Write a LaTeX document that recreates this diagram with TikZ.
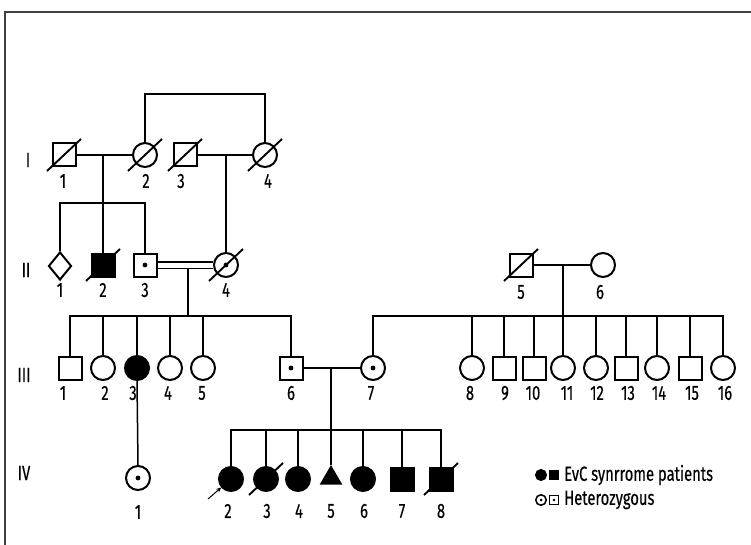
\documentclass[tikz,border=0pt]{standalone}
\usepackage{fontspec}
\setmainfont[FakeStretch=0.72, FakeBold=0.35]{Fira Sans}
\usetikzlibrary{shapes.geometric,arrows.meta}

% slash through a deceased individual
\newcommand\deceased[1]{\draw[line width=1.9pt] ([shift={(-17,16)}]#1.center) -- ([shift={(17,-16)}]#1.center);}

\begin{document}
\begin{tikzpicture}[x=1pt,y=-1pt,
  ind/.style={draw, line width=2pt, inner sep=0pt},
  male/.style={ind, rectangle, minimum size=23pt},
  female/.style={ind, circle, minimum size=24pt},
  unknown/.style={ind, diamond, minimum width=23pt, minimum height=28pt},
  aff/.style={fill=black},
  carrier/.style={path picture={\fill (path picture bounding box.center) circle (#1);}},
  carrier/.default=2.4pt,
  lbl/.style={inner sep=0pt, font=\fontsize{20.5}{22}\selectfont},
  con/.style={line width=1.5pt}
]
\useasboundingbox (0,0) rectangle (751,545);
\draw[line width=1.2pt, black!75] (5,545) -- (5,12) -- (751,12);

% generation labels
\node[lbl] (gI) at (28,160) {I};
\node[lbl] (gII) at (26,270) {II};
\node[lbl] (gIII) at (24,375) {III};
\node[lbl] (gIV) at (24,473) {IV};

% ---------- generation I
\node[male] (I1) at (64,155) {};
\node[female] (I2) at (145,155) {};
\node[male] (I3) at (185,155) {};
\node[female] (I4) at (265,155) {};
\deceased{I1}\deceased{I2}\deceased{I3}\deceased{I4}
\node[lbl] (lI1) at (63,181) {1};
\node[lbl] (lI2) at (146,181) {2};
\node[lbl] (lI3) at (181,181) {3};
\node[lbl] (lI4) at (268,181) {4};
\coordinate (topI) at (200,94);
\draw[con] (I2.north) |- (topI) -| (I4.north);
\draw[con] (I1.east) -- (I2.west);
\draw[con] (I3.east) -- (I4.west);

% ---------- generation II
\node[unknown] (II1) at (60,266) {};
\node[male, aff] (II2) at (103,265) {};
\node[male, carrier] (II3) at (145,265) {};
\node[female, carrier] (II4) at (226,265) {};
\deceased{II2}\deceased{II4}
\node[male] (II5) at (521,265) {};
\node[female] (II6) at (603,265) {};
\deceased{II5}
\node[lbl] (lII1) at (60,290) {1};
\node[lbl] (lII2) at (103,290) {2};
\node[lbl] (lII3) at (145,290) {3};
\node[lbl] (lII4) at (226,290) {4};
\node[lbl] (lII5) at (521,292) {5};
\node[lbl] (lII6) at (600,292) {6};

\coordinate (mI12) at (103,155);
\coordinate (sII) at (103,203);
\draw[con] (mI12) -- (II2.north);
\draw[con] (II1.north) |- (sII) -| (II3.north);
\coordinate (mI34) at (226,155);
\draw[con] (mI34) -- (II4.north);
\draw[con, double, double distance=5pt] (II3.east) -- (II4.west);
\draw[con] (II5.east) -- (II6.west);

% ---------- generation III
\node[male] (III1) at (70,368) {};
\node[female] (III2) at (103,368) {};
\node[female, aff] (III3) at (137,368) {};
\node[female] (III4) at (170,368) {};
\node[female] (III5) at (203,368) {};
\node[male, carrier] (III6) at (291,368) {};
\node[female, carrier] (III7) at (373,368) {};
\node[female] (III8) at (472,368) {};
\node[male] (III9) at (504,368) {};
\node[male] (III10) at (534,368) {};
\node[female] (III11) at (563,368) {};
\node[female] (III12) at (596,368) {};
\node[male] (III13) at (626,368) {};
\node[female] (III14) at (657,368) {};
\node[male] (III15) at (690,368) {};
\node[female] (III16) at (723,368) {};
\foreach \n/\x in {1/63,2/105,3/133,4/168,5/202,6/291,7/371,8/470,9/505,10/533,11/567,12/597,13/628,14/659,15/692,16/725}
  \node[lbl] (lIII\n) at (\x,393) {\n};

\coordinate (mII34) at (188,268.5);
\coordinate (sIIIa) at (188,316);
\draw[con] (mII34) -- (sIIIa);
\draw[con] (III1.north) |- (sIIIa) -| (III6.north);
\foreach \k in {2,3,4,5} \draw[con] (III\k.north) -- (III\k.north |- sIIIa);
\coordinate (mII56) at (563,265);
\coordinate (sIIIb) at (563,316);
\draw[con] (mII56) -- (sIIIb);
\draw[con] (III7.north) |- (sIIIb) -| (III16.north);
\foreach \k in {8,...,15} \draw[con] (III\k.north) -- (III\k.north |- sIIIb);
\draw[con] (III6.east) -- (III7.west);

% ---------- generation IV
\node[female, carrier] (IV1) at (138,478) {};
\node[female, aff] (IV2) at (231,479) {};
\node[female, aff] (IV3) at (266,479) {};
\node[female, aff] (IV4) at (298,479) {};
\node[ind, aff, regular polygon, regular polygon sides=3, minimum size=22pt] (IV5) at (331,478) {};
\node[female, aff] (IV6) at (363,479) {};
\node[male, aff] (IV7) at (402,479) {};
\node[male, aff] (IV8) at (441,479) {};
\deceased{IV3}\deceased{IV8}
\node[lbl] (lIV1) at (138,512) {1};
\foreach \n/\x in {2/228,3/267,4/299,5/331,6/364,7/402,8/441}
  \node[lbl] (lIV\n) at (\x,511) {\n};

\draw[con] (III3.south) -- (IV1.north);
\coordinate (mIII67) at (331,368);
\coordinate (sIV) at (331,430);
\draw[con] (mIII67) -- (sIV);
\draw[con] (IV2.north) |- (sIV) -| (IV8.north);
\foreach \k in {3,4,5,6,7} \draw[con] (IV\k.north) -- (IV\k.north |- sIV);
\coordinate (proband) at (208,499);
\draw[-{Stealth[length=5pt,width=4.5pt]}, line width=1pt] (proband) -- (IV2);

% ---------- legend
\node[female, aff, minimum size=11pt, line width=1pt] (Lc1) at (541,475) {};
\node[male, aff, minimum size=9.5pt, line width=1pt] (Ls1) at (554,475) {};
\node[lbl, anchor=west] (Lt1) at (564,475) {EvC synrrome patients};
\node[female, carrier=1.5pt, minimum size=10.5pt, line width=1.5pt] (Lc2) at (541,500) {};
\node[male, carrier=1.3pt, minimum size=9pt, line width=1.5pt] (Ls2) at (554,500) {};
\node[lbl, anchor=west] (Lt2) at (564,500) {Heterozygous};
\end{tikzpicture}
\end{document}
